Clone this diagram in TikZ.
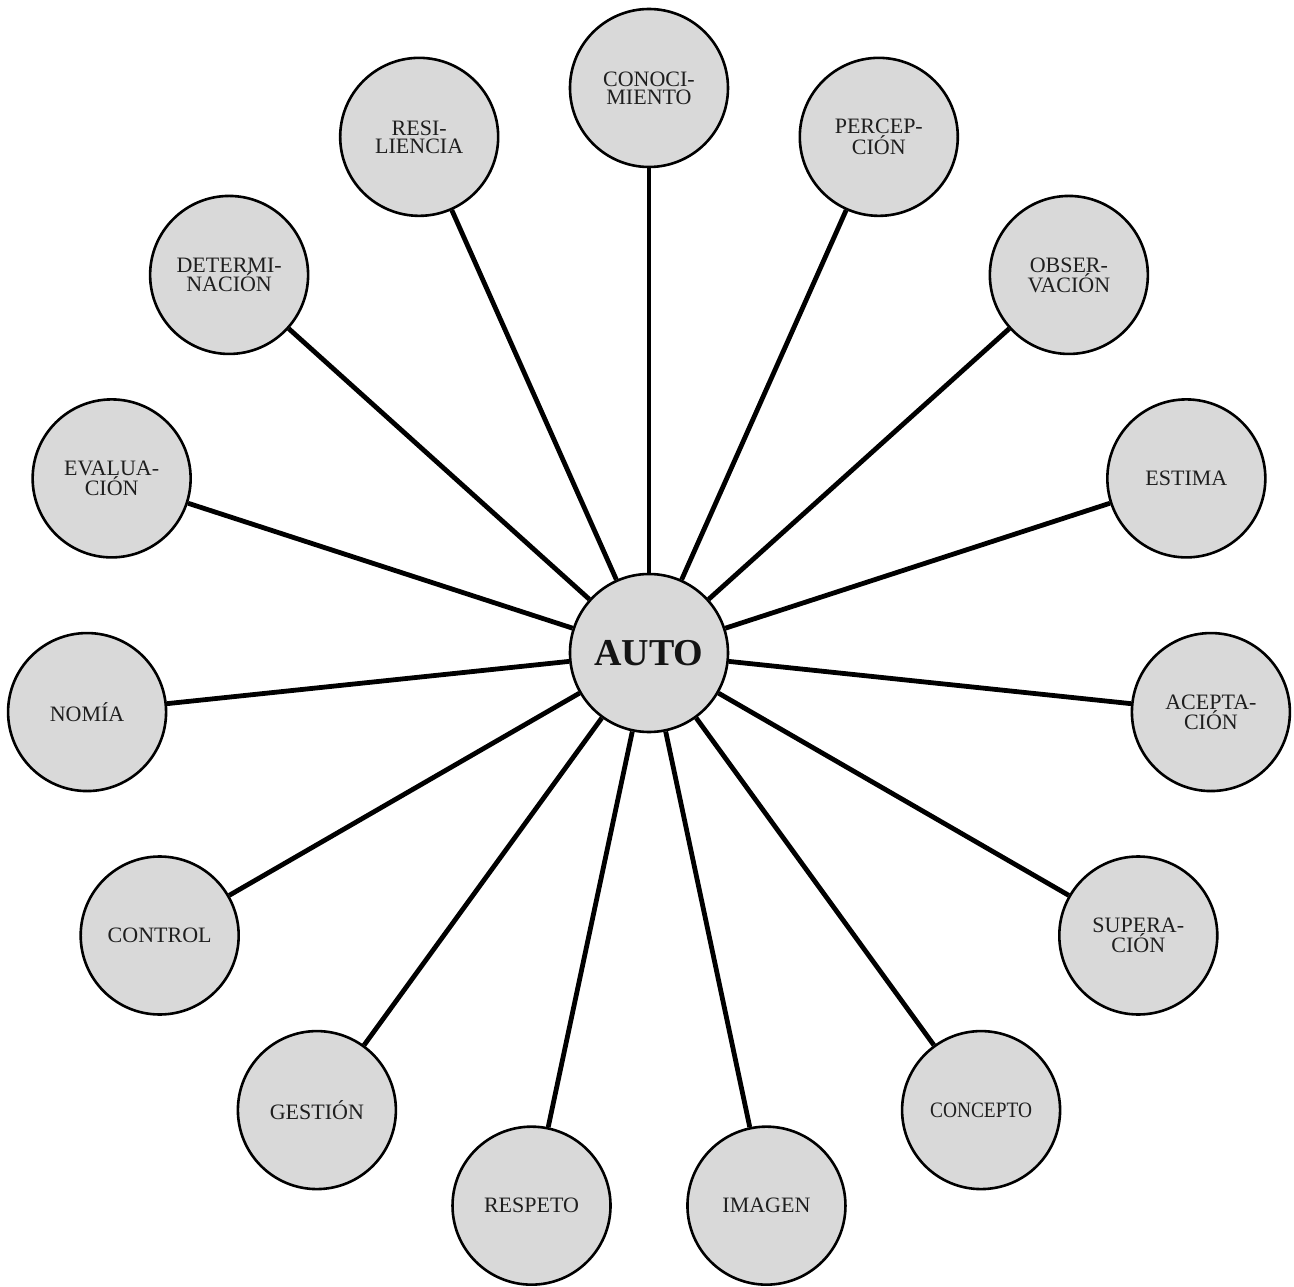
\documentclass[tikz,border=0pt]{standalone}
\usepackage{fontspec}
\usepackage{graphicx}
\setmainfont{Liberation Serif}
\definecolor{nodefill}{RGB}{217,217,217}
\tikzset{
  bubble/.style={circle, draw=black, line width=2.6pt, fill=nodefill, minimum size=158pt, inner sep=0pt, align=center, font={\fontsize{22pt}{18pt}\selectfont}, text=black!88},
  hub/.style={bubble, font={\fontsize{38pt}{40pt}\selectfont\bfseries}, text=black!92},
  spoke/.style={line width=4.8pt, black}
}
\begin{document}
\begin{tikzpicture}[x=1pt,y=1pt]
\useasboundingbox (-649,-633) rectangle (645,653);
\node[hub] (auto) at (0,0) {AUTO};
\foreach \ang/\nm/\txt in {
  90/cono/{CONOCI-\\MIENTO},
  66/perc/{PERCEP-\\CIÓN},
  42/obse/{OBSER-\\VACIÓN},
  18/esti/{ESTIMA},
  -6/acep/{ACEPTA-\\CIÓN},
  -30/supe/{SUPERA-\\CIÓN},
  -54/conc/{\scalebox{0.88}[1]{CONCEPTO}},
  -78/imag/{IMAGEN},
  -102/resp/{RESPETO},
  -126/gest/{GESTIÓN},
  -150/cont/{CONTROL},
  -174/nomi/{NOMÍA},
  162/eval/{EVALUA-\\CIÓN},
  138/dete/{DETERMI-\\NACIÓN},
  114/resi/{RESI-\\LIENCIA}} {
  \node[bubble] (\nm) at (\ang:565) {\txt};
  \draw[spoke] (auto) -- (\nm);
}
\end{tikzpicture}
\end{document}
